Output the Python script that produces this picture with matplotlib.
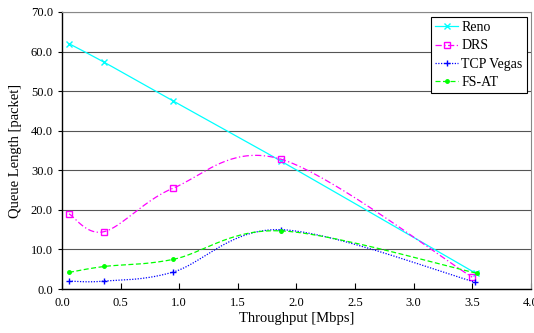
import numpy as np
import matplotlib
matplotlib.use("Agg")
import matplotlib.pyplot as plt
from matplotlib.lines import Line2D

plt.rcParams['font.family'] = ['Liberation Serif', 'DejaVu Serif']

reno_x = [0.06, 0.36, 0.95, 1.87, 3.53]
reno_y = [62.0, 57.3, 47.5, 32.3, 4.0]
drs_x = [0.06, 0.36, 0.95, 1.87, 3.50]
drs_y = [19.0, 14.5, 25.5, 32.8, 3.0]
vegas_x = [0.06, 0.36, 0.95, 1.87, 3.52]
vegas_y = [2.0, 2.0, 4.3, 15.0, 1.8]
fsat_x = [0.06, 0.36, 0.95, 1.87, 3.54]
fsat_y = [4.2, 5.7, 7.5, 14.7, 4.0]

xticks = [0.0, 0.5, 1.0, 1.5, 2.0, 2.5, 3.0, 3.5, 4.0]
yticks = [0, 10, 20, 30, 40, 50, 60, 70]


def smooth(xs, ys, n=40):
    P = np.column_stack([xs, ys]).astype(float)
    m = len(P)
    out = []
    for i in range(m - 1):
        p0 = P[i - 1] if i > 0 else P[i]
        p1 = P[i]
        p2 = P[i + 1]
        p3 = P[i + 2] if i + 2 < m else P[i + 1]
        c1 = p1 + (p2 - p0) / 6.0
        c2 = p2 - (p3 - p1) / 6.0
        t = np.linspace(0, 1, n)[:, None]
        seg = ((1 - t) ** 3) * p1 + 3 * ((1 - t) ** 2) * t * c1 + 3 * (1 - t) * t ** 2 * c2 + t ** 3 * p2
        out.append(seg if i == 0 else seg[1:])
    a = np.vstack(out)
    return a[:, 0], a[:, 1]


fig = plt.figure(figsize=(5.34, 3.33), dpi=100)
ax = fig.add_axes([0.116, 0.132, 0.878, 0.832])

series = [
    (reno_x, reno_y, 'Reno', '#00FFFF', '-', 'x', 'none'),
    (drs_x, drs_y, 'DRS', '#FF00FF', (0, (5, 2, 1, 2)), 's', 'none'),
    (vegas_x, vegas_y, 'TCP Vegas', '#0000FF', (0, (1, 1.2)), '+', '#0000FF'),
    (fsat_x, fsat_y, 'FS-AT', '#00FF00', (0, (4, 2)), 'o', '#00FF00'),
]
for xs, ys, lab, col, ls, mk, mfc in series:
    sx, sy = smooth(xs, ys)
    ax.plot(sx, sy, color=col, linestyle=ls, linewidth=0.9)
    ax.plot(xs, ys, linestyle='none', marker=mk, color=col, markersize=4 if mk != 'o' else 2.5,
            markerfacecolor=mfc, markeredgewidth=1.0)

handles = [Line2D([], [], color=c, linestyle=ls, linewidth=0.9, marker=mk, markersize=4 if mk != 'o' else 2.5,
                  markerfacecolor=mfc) for _, _, _, c, ls, mk, mfc in series]
labels = [s[2] for s in series]
leg = ax.legend(handles, labels, loc='upper right', bbox_to_anchor=(0.991, 0.982), borderaxespad=0,
                fontsize=10, frameon=True, fancybox=False, edgecolor='black', framealpha=1,
                handlelength=1.7, borderpad=0.3, labelspacing=0.38, handletextpad=0.2)
leg.get_frame().set_linewidth(0.8)

ax.set_xlim(0, 4)
ax.set_ylim(0, 70)
ax.set_xticks(xticks)
ax.set_xticklabels([f"{v:.1f}" for v in xticks])
ax.set_yticks(yticks)
ax.set_yticklabels([f"{v:.1f}" for v in yticks])
ax.yaxis.grid(True, color='#555555', linewidth=0.8)
ax.set_axisbelow(True)
ax.tick_params(axis='x', direction='in', length=4, labelsize=9, pad=6, colors='black')
ax.tick_params(axis='y', direction='out', length=3, labelsize=9, colors='black')
for s in ['top', 'right']:
    ax.spines[s].set_color('#888888')
    ax.spines[s].set_linewidth(0.8)
for s in ['left', 'bottom']:
    ax.spines[s].set_linewidth(1.0)
ax.set_xlabel('Throughput [Mbps]', fontsize=10.5, labelpad=2)
ax.set_ylabel('Queue Length [packet]', fontsize=10.5, labelpad=6)

fig.savefig('out.png', dpi=100)
